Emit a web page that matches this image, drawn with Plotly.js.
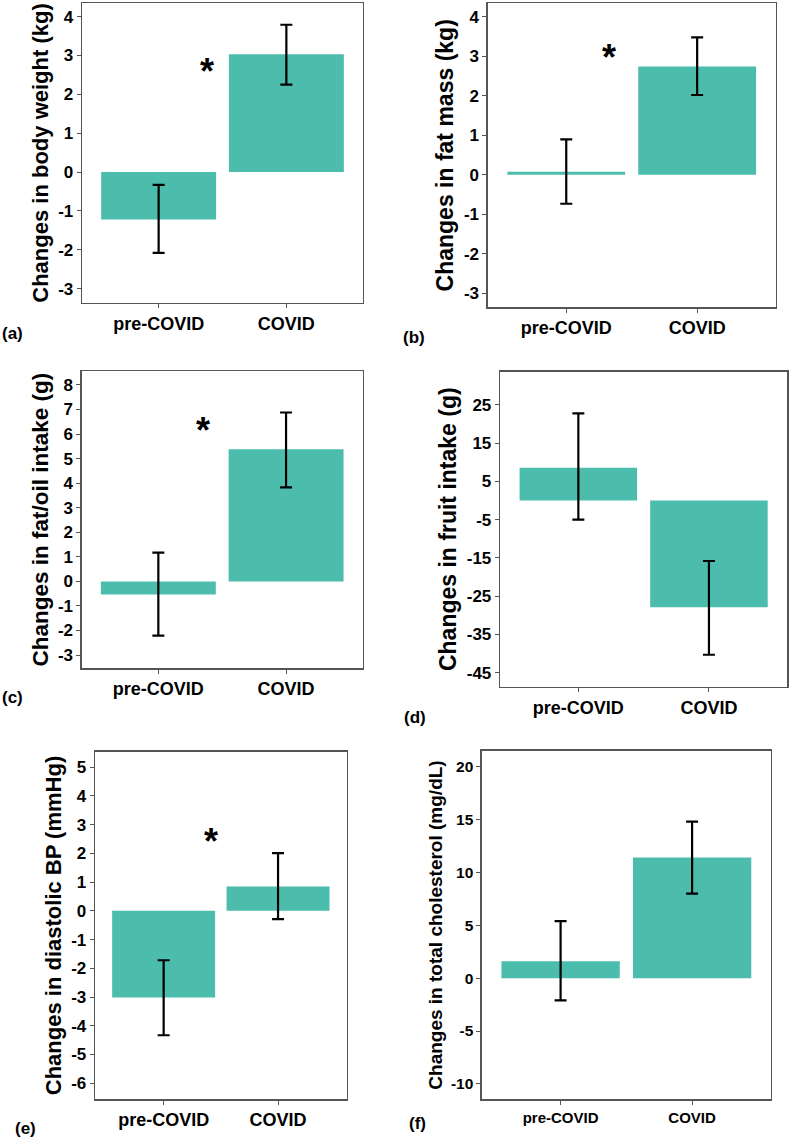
<!DOCTYPE html>
<html><head><meta charset="utf-8">
<script src="https://cdn.plot.ly/plotly-3.0.1.min.js"></script>
<style>html,body{margin:0;padding:0;background:#fff}</style>
</head><body><div id="chart" style="width:789px;height:1137px"></div>
<script>
// ---------- data ----------
const categories = ['pre-COVID', 'COVID'];

const bodyWeight = [-1.22, 3.03];
const bodyWeightErrUp = [0.89, 0.76];
const bodyWeightErrDown = [0.86, 0.78];
const bodyWeightTicks = [-3, -2, -1, 0, 1, 2, 3, 4];

const fatMass = [0.08, 2.74];
const fatMassErrUp = [0.82, 0.74];
const fatMassErrDown = [0.81, 0.72];
const fatMassTicks = [-3, -2, -1, 0, 1, 2, 3, 4];

const fatOil = [-0.53, 5.38];
const fatOilErrUp = [1.70, 1.50];
const fatOilErrDown = [1.68, 1.55];
const fatOilTicks = [-3, -2, -1, 0, 1, 2, 3, 4, 5, 6, 7, 8];

const fruit = [8.6, -27.9];
const fruitErrUp = [14.2, 12.1];
const fruitErrDown = [13.6, 12.4];
const fruitTicks = [-45, -35, -25, -15, -5, 5, 15, 25];

const diastolicBP = [-3.02, 0.85];
const diastolicBPErrUp = [1.30, 1.16];
const diastolicBPErrDown = [1.31, 1.14];
const diastolicBPTicks = [-6, -5, -4, -3, -2, -1, 0, 1, 2, 3, 4, 5];

const cholesterol = [1.6, 11.4];
const cholesterolErrUp = [3.8, 3.4];
const cholesterolErrDown = [3.7, 3.4];
const cholesterolTicks = [-10, -5, 0, 5, 10, 15, 20];

const panelLabels = ['(a)', '(b)', '(c)', '(d)', '(e)', '(f)'];
const yTitles = [
  'Changes in body weight (kg)',
  'Changes in fat mass (kg)',
  'Changes in fat/oil intake (g)',
  'Changes in fruit intake (g)',
  'Changes in diastolic BP (mmHg)',
  'Changes in total cholesterol (mg/dL)'
];

// ---------- layout helpers ----------
const W = 789, H = 1137;
const px = x => x / W;
const py = y => 1 - y / H;
const BAR = '#4cbdad';
const AXC = '#555555';
const FONT = 'Liberation Sans, Arial, sans-serif';
const toLabel = v => String(v); // plain hyphen minus like the original

const panels = [
  {y: bodyWeight, up: bodyWeightErrUp, dn: bodyWeightErrDown, ticks: bodyWeightTicks,
   range: [-3.37, 4.35], box: [82, 363, 3, 303], star: [0.38, 2.59], lab: [12.5, 333],
   tfs: 22, tickfs: 17, xfs: 18, standoff: 3},
  {y: fatMass, up: fatMassErrUp, dn: fatMassErrDown, ticks: fatMassTicks,
   range: [-3.35, 4.34], box: [487.7, 775.7, 3.3, 307.3], star: [0.33, 2.96], lab: [414, 337],
   tfs: 23, tickfs: 17, xfs: 18, standoff: 3},
  {y: fatOil, up: fatOilErrUp, dn: fatOilErrDown, ticks: fatOilTicks,
   range: [-3.54, 8.57], box: [81.7, 362.7, 371, 668.3], star: [0.35, 6.13], lab: [12.5, 697],
   tfs: 22.5, tickfs: 17, xfs: 18, standoff: 3},
  {y: fruit, up: fruitErrUp, dn: fruitErrDown, ticks: fruitTicks,
   range: [-48.66, 33.7], box: [500, 787.3, 371.7, 686.7], star: null, lab: [415, 717],
   tfs: 23, tickfs: 17, xfs: 18, standoff: 3},
  {y: diastolicBP, up: diastolicBPErrUp, dn: diastolicBPErrDown, ticks: diastolicBPTicks,
   range: [-6.56, 5.54], box: [95, 346.7, 751.7, 1099.3], star: [0.41, 2.43], lab: [25, 1128],
   tfs: 22, tickfs: 17, xfs: 18, standoff: 3},
  {y: cholesterol, up: cholesterolErrUp, dn: cholesterolErrDown, ticks: cholesterolTicks,
   range: [-11.45, 21.5], box: [481.7, 771, 750.7, 1099.3], star: null, lab: [417, 1123],
   tfs: 19, tickfs: 15.5, xfs: 15, standoff: 3}
];

const data = [];
const layout = {
  width: W, height: H,
  margin: {l: 0, r: 0, t: 0, b: 0},
  paper_bgcolor: '#ffffff', plot_bgcolor: '#ffffff',
  showlegend: false, bargap: 0.1,
  font: {family: FONT, color: '#000'},
  annotations: []
};

panels.forEach((p, i) => {
  const n = i === 0 ? '' : String(i + 1);
  data.push({
    type: 'bar', x: categories, y: p.y,
    xaxis: 'x' + n, yaxis: 'y' + n,
    marker: {color: BAR, line: {width: 0}},
    error_y: {type: 'data', symmetric: false, array: p.up, arrayminus: p.dn,
              color: '#000000', thickness: 2.2, width: 6},
    hoverinfo: 'skip', showlegend: false
  });
  const [x0, x1, y0, y1] = p.box;
  layout['xaxis' + n] = {
    domain: [px(x0), px(x1)], anchor: 'y' + n, type: 'category',
    range: [-0.6, 1.6], showline: true, mirror: true, linecolor: AXC, linewidth: 1.3,
    ticks: 'outside', ticklen: 4, tickwidth: 1, tickcolor: AXC,
    tickfont: {family: FONT, size: p.xfs, color: '#000', weight: 'bold'},
    showgrid: false, zeroline: false, fixedrange: true, automargin: false
  };
  layout['yaxis' + n] = {
    domain: [py(y1), py(y0)], anchor: 'x' + n,
    range: p.range, tickmode: 'array', tickvals: p.ticks, ticktext: p.ticks.map(toLabel),
    showline: true, mirror: true, linecolor: AXC, linewidth: 1.3,
    ticks: 'outside', ticklen: 4, tickwidth: 1, tickcolor: AXC,
    tickfont: {family: FONT, size: p.tickfs, color: '#000', weight: 'bold'},
    title: {text: yTitles[i], standoff: p.standoff,
            font: {family: FONT, size: p.tfs, color: '#000', weight: 'bold'}},
    showgrid: false, zeroline: false, fixedrange: true, automargin: false
  };
  layout.annotations.push({
    xref: 'paper', yref: 'paper', x: px(p.lab[0]), y: py(p.lab[1]),
    xanchor: 'center', yanchor: 'middle', showarrow: false, text: panelLabels[i],
    font: {family: FONT, size: 17, color: '#000', weight: 'bold'}
  });
  if (p.star) {
    layout.annotations.push({
      xref: 'x' + n, yref: 'y' + n, x: p.star[0], y: p.star[1],
      xanchor: 'center', yanchor: 'middle', showarrow: false, text: '*',
      font: {family: FONT, size: 36, color: '#000', weight: 'bold'}
    });
  }
});

Plotly.newPlot('chart', data, layout, {displayModeBar: false, staticPlot: true});
</script>
</body></html>
